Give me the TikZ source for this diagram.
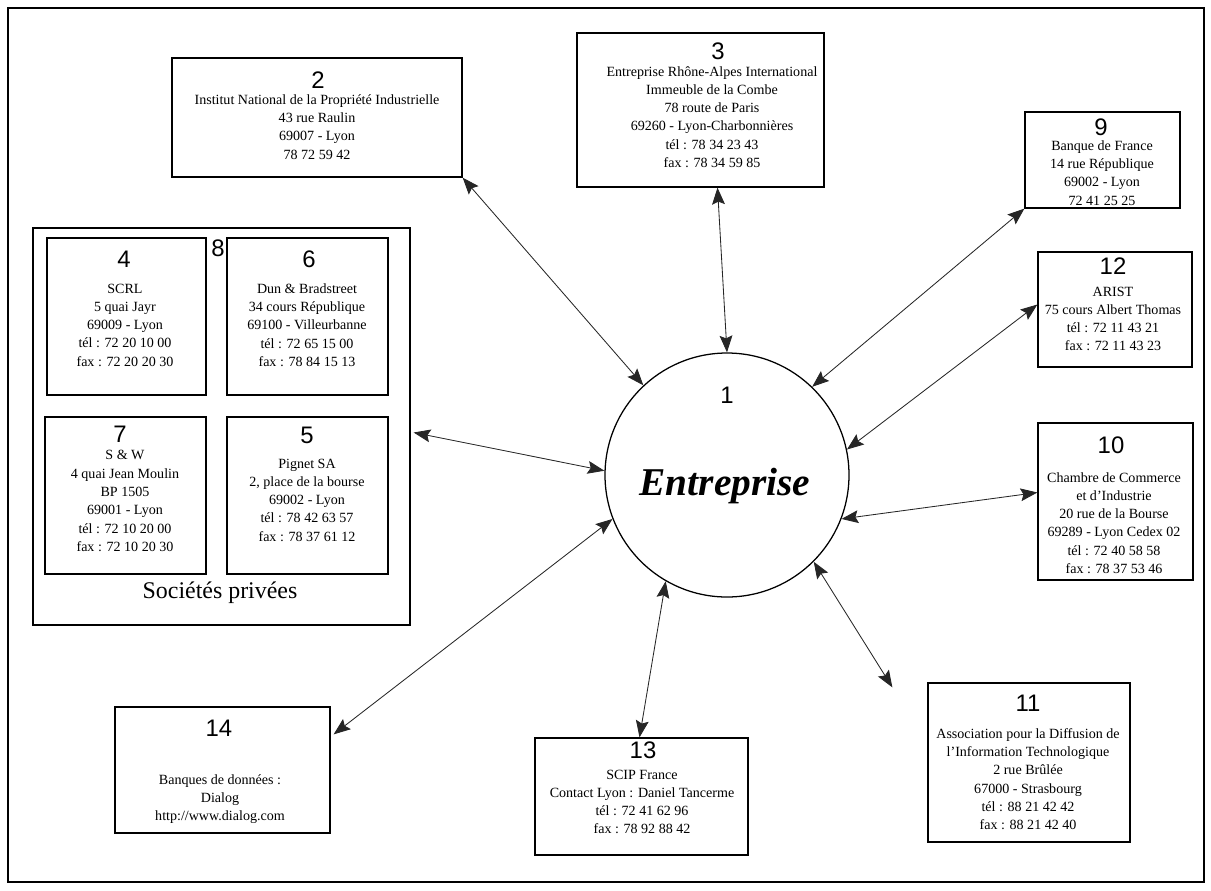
\documentclass[tikz,border=0pt]{standalone}
\usepackage{fontspec}
\setmainfont{Liberation Serif}
\newfontfamily\numf{Liberation Sans}
\usetikzlibrary{arrows.meta,calc}
\tikzset{
  box/.style 2 args={draw, line width=0.9pt, rectangle, minimum width=#1*0.025cm, minimum height=#2*0.025cm, inner sep=0pt},
  num/.style={font=\numf\fontsize{17}{20}\selectfont, inner sep=0pt},
  info/.style={font=\fontsize{10}{13}\selectfont, align=center, inner sep=0pt},
  tipa/.tip={Stealth[length=0.42cm,width=0.32cm,inset=0.07cm]},
  link/.style={line width=0.6pt, draw=black!85, tipa-tipa},
}
\begin{document}
\begin{tikzpicture}[x=0.025cm,y=-0.025cm]
\useasboundingbox (0,0) rectangle (1211,890);
\draw[line width=0.8pt] (8,8) rectangle (1204,882);

% central circle
\node[circle, draw, line width=0.9pt, minimum size=244*0.025cm, inner sep=0pt] (c) at (727,475) {};
\node[num] (n1) at (727,395) {1};
\node[font=\fontsize{28}{32}\selectfont\bfseries\itshape, inner sep=0pt] (ent) at (725,486) {Entreprise};

% box 2
\node[box={290}{119}] (b2) at (317,117.5) {};
\node[num] (n2) at (318,80) {2};
\node[info] (t2) at (317,127) {Institut National de la Propriété Industrielle\\43 rue Raulin\\69007 - Lyon\\78 72 59 42};

% box 3
\node[box={247}{154}] (b3) at (700.5,110) {};
\node[num] (n3) at (718,51) {3};
\node[info] (t3) at (712,117) {Entreprise Rhône-Alpes International\\Immeuble de la Combe\\78 route de Paris\\69260 - Lyon-Charbonnières\\tél : 78 34 23 43\\fax : 78 34 59 85};

% box 9
\node[box={155}{96}] (b9) at (1102.5,160) {};
\node[num] (n9) at (1101,127) {9};
\node[info] (t9) at (1102,173) {Banque de France\\14 rue République\\69002 - Lyon\\72 41 25 25};

% box 12
\node[box={154}{115}] (b12) at (1115,309.5) {};
\node[num] (n12) at (1113,266) {12};
\node[info] (t12) at (1113,319) {ARIST\\75 cours Albert Thomas\\tél : 72 11 43 21\\fax : 72 11 43 23};

% box 10
\node[box={155}{157}] (b10) at (1115.5,501.5) {};
\node[num] (n10) at (1111,445) {10};
\node[info] (t10) at (1114,523) {Chambre de Commerce\\et d'Industrie\\20 rue de la Bourse\\69289 - Lyon Cedex 02\\tél : 72 40 58 58\\fax : 78 37 53 46};

% box 11
\node[box={202}{159}] (b11) at (1029,762.5) {};
\node[num] (n11) at (1028,703) {11};
\node[info] (t11) at (1028,779) {Association pour la Diffusion de\\l'Information Technologique\\2 rue Brûlée\\67000 - Strasbourg\\tél : 88 21 42 42\\fax : 88 21 42 40};

% box 13
\node[box={213}{117}] (b13) at (641.5,796.5) {};
\node[num] (n13) at (643,750) {13};
\node[info] (t13) at (642,802) {SCIP France\\Contact Lyon : Daniel Tancerme\\tél : 72 41 62 96\\fax : 78 92 88 42};

% box 14
\node[box={215}{126}] (b14) at (222.5,770) {};
\node[num] (n14) at (219,728) {14};
\node[info] (t14) at (220,799) {Banques de données :\\Dialog\\http://www.dialog.com};

% group 8
\node[box={377}{397}] (g8) at (221.5,426.5) {};
\node[num] (n8) at (218,248) {8};
\node[font=\fontsize{17}{20}\selectfont, inner sep=0pt] (soc) at (220,593) {Sociétés privées};

\node[box={159}{157}] (b4) at (126.5,316.5) {};
\node[num] (n4) at (124,259) {4};
\node[info] (t4) at (125,325) {SCRL\\5 quai Jayr\\69009 - Lyon\\tél : 72 20 10 00\\fax : 72 20 20 30};

\node[box={161}{157}] (b6) at (307.5,316.5) {};
\node[num] (n6) at (309,259) {6};
\node[info] (t6) at (307,325) {Dun \& Bradstreet\\34 cours République\\69100 - Villeurbanne\\tél : 72 65 15 00\\fax : 78 84 15 13};

\node[box={161}{157}] (b7) at (125.5,495.5) {};
\node[num] (n7) at (120,434) {7};
\node[info] (t7) at (125,501) {S \& W\\4 quai Jean Moulin\\BP 1505\\69001 - Lyon\\tél : 72 10 20 00\\fax : 72 10 20 30};

\node[box={161}{157}] (b5) at (307.5,495.5) {};
\node[num] (n5) at (307,435) {5};
\node[info] (t5) at (307,500) {Pignet SA\\2, place de la bourse\\69002 - Lyon\\tél : 78 42 63 57\\fax : 78 37 61 12};

% connectors
\draw[link] (b2.south east) -- (c.133);
\draw[link] ($(b3.south)+(17,0)$) -- (c.90);
\draw[link] (b9.south west) -- (c.46);
\draw[link] ($(b12.west)+(0,-5)$) -- (c.12);
\draw[link] ($(b10.west)+(0,-9)$) -- (c.-21);
\draw[link] ($(b11.north west)+(-35,5)$) -- (c.-45);
\draw[link] ($(b13.north)+(-2,0)$) -- (c.-120);
\draw[link] ($(b14.north east)+(3,28)$) -- (c.-159);
\draw[link] ($(g8.east)+(3,6)$) -- (c.178);
\end{tikzpicture}
\end{document}
